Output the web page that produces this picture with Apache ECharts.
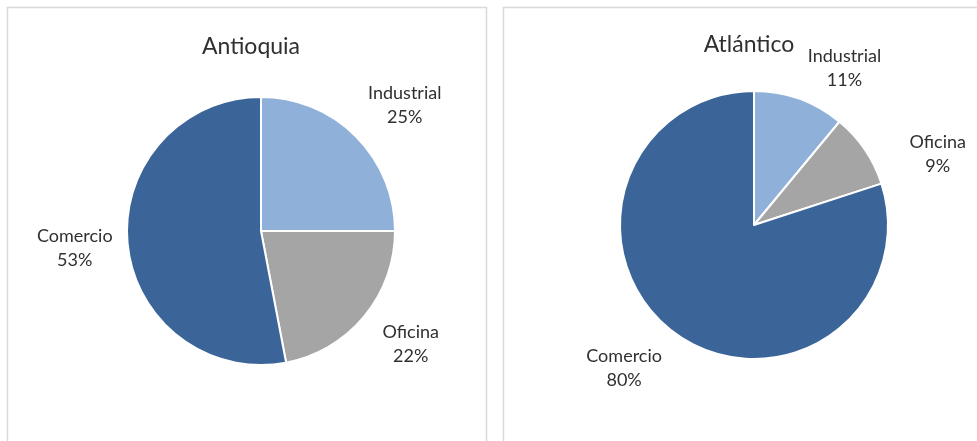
<!DOCTYPE html>
<html>
<head>
<meta charset="utf-8">
<script src="https://cdn.jsdelivr.net/npm/echarts@6/dist/echarts.min.js"></script>
<style>
  html, body { margin: 0; padding: 0; background: #ffffff; }
  #chart { width: 977px; height: 441px; }
</style>
</head>
<body>
<div id="chart"></div>
<script>
// Share of each segment by department
const categories = ['Industrial', 'Oficina', 'Comercio'];
const antioquiaValues = [25, 22, 53];
const atlanticoValues = [11, 9, 80];
const panelTitles = ['Antioquia', 'Atlántico'];

const sliceColors = ['#8FB0D8', '#A5A5A5', '#3B6598'];
const textColor = '#303030';
const FONT = 'Lato, "Open Sans", sans-serif';

// Pie geometry (pixels) for each panel
const pies = [
  { cx: 261, cy: 231, r: 134 },
  { cx: 754, cy: 225, r: 134 }
];
// Label placement: angular nudge (deg) from the slice bisector and distance from centre
const labelPlacement = [
  [{ da: 3.8, d: 191 }, { da: -2.4, d: 188 }, { da: 0.2, d: 187 }],
  [{ da: 10.2, d: 181 }, { da: 13, d: 197 }, { da: 6.3, d: 193 }]
];

function midAngles(values) {
  const total = values.reduce((a, b) => a + b, 0);
  let acc = 0;
  return values.map(v => {
    const mid = (acc + v / 2) / total * 360;
    acc += v;
    return mid;
  });
}

const seriesValues = [antioquiaValues, atlanticoValues];
const mids = seriesValues.map(midAngles);

function makeSeries(idx) {
  const p = pies[idx];
  return {
    type: 'pie',
    center: [p.cx, p.cy],
    radius: [0, p.r],
    startAngle: 90,
    clockwise: true,
    animation: false,
    silent: true,
    avoidLabelOverlap: false,
    itemStyle: { borderColor: '#ffffff', borderWidth: 2 },
    label: {
      show: true,
      position: 'outside',
      alignTo: 'none',
      overflow: 'none',
      edgeDistance: 0,
      bleedMargin: 0,
      formatter: '{b}\n{d}%',
      color: textColor,
      fontFamily: FONT,
      fontSize: 18,
      lineHeight: 24,
      align: 'center'
    },
    labelLine: { show: false },
    labelLayout: function (params) {
      const pl = labelPlacement[idx][params.dataIndex];
      const a = (mids[idx][params.dataIndex] + pl.da) * Math.PI / 180;
      return {
        x: p.cx + pl.d * Math.sin(a),
        y: p.cy - pl.d * Math.cos(a),
        align: 'center',
        verticalAlign: 'middle'
      };
    },
    data: categories.map((c, i) => ({
      name: c,
      value: seriesValues[idx][i],
      itemStyle: { color: sliceColors[i] }
    }))
  };
}

const chart = echarts.init(document.getElementById('chart'), null, { renderer: 'canvas' });
chart.setOption({
  backgroundColor: '#ffffff',
  title: [
    {
      text: panelTitles[0], left: 246, top: 42, textAlign: 'center', textVerticalAlign: 'middle',
      textStyle: { fontFamily: FONT, fontSize: 23, fontWeight: 'normal', color: textColor }
    },
    {
      text: panelTitles[1], left: 744, top: 40, textAlign: 'center', textVerticalAlign: 'middle',
      textStyle: { fontFamily: FONT, fontSize: 23, fontWeight: 'normal', color: textColor }
    }
  ],
  graphic: [
    {
      type: 'rect', z: -1, silent: true,
      shape: { x: 7.5, y: 7.5, width: 479, height: 460 },
      style: { fill: 'none', stroke: '#D9D9D9', lineWidth: 1.5 }
    },
    {
      type: 'rect', z: -1, silent: true,
      shape: { x: 503.5, y: 7.5, width: 500, height: 460 },
      style: { fill: 'none', stroke: '#D9D9D9', lineWidth: 1.5 }
    }
  ],
  series: [makeSeries(0), makeSeries(1)]
});
</script>
</body>
</html>
